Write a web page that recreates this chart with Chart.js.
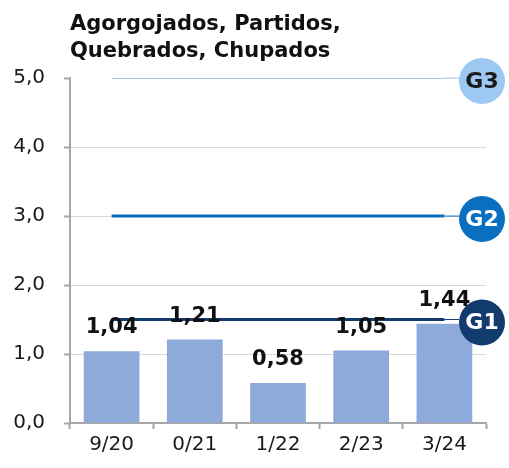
<!DOCTYPE html>
<html>
<head>
<meta charset="utf-8">
<script src="https://cdn.jsdelivr.net/npm/chart.js@4.4.1/dist/chart.umd.min.js"></script>
<style>
  html, body { margin: 0; padding: 0; background: #ffffff; }
  #wrap { width: 509px; height: 468px; }
</style>
</head>
<body>
<div id="wrap"><canvas id="c" width="509" height="468"></canvas></div>
<script>
const categories = ['9/20', '0/21', '1/22', '2/23', '3/24'];
const values = [1.04, 1.21, 0.58, 1.05, 1.44];
const thresholdNames = ['G3', 'G2', 'G1'];
const thresholdValues = [5.0, 3.0, 1.5];
const yTicks = [0, 1, 2, 3, 4, 5];
const titleLines = ['Agorgojados, Partidos,', 'Quebrados, Chupados'];

const lineColors = ['#9DC3E6', '#0B6FC0', '#123C6E'];
const lineWidths = [2, 3, 3];
const circleText = ['#1a1a1a', '#ffffff', '#ffffff'];
const fmt = v => v.toFixed(2).replace('.', ',');
const fmt1 = v => v.toFixed(1).replace('.', ',');

const FONT = "'DejaVu Sans', Verdana, sans-serif";

const thresholdDatasets = thresholdNames.map((n, i) => ({
  type: 'line',
  label: n,
  data: categories.map(() => thresholdValues[i]),
  borderColor: lineColors[i],
  borderWidth: lineWidths[i],
  pointRadius: 0,
  fill: false,
  order: 1
}));

const labelsPlugin = {
  id: 'valueLabels',
  afterDatasetsDraw(chart) {
    const ctx = chart.ctx;
    const meta = chart.getDatasetMeta(0);
    ctx.save();
    ctx.font = "bold 21px " + FONT;
    ctx.fillStyle = '#111111';
    ctx.textAlign = 'center';
    ctx.textBaseline = 'alphabetic';
    meta.data.forEach((bar, i) => {
      ctx.fillText(fmt(values[i]), bar.x, bar.y - 18);
    });
    ctx.restore();
  }
};

const badgePlugin = {
  id: 'badges',
  afterDraw(chart) {
    const ctx = chart.ctx;
    const ys = chart.scales.y;
    const area = chart.chartArea;
    const cx = area.right - 4;
    const r = 23;
    thresholdNames.forEach((n, i) => {
      const meta = chart.getDatasetMeta(i + 1);
      const last = meta.data[meta.data.length - 1];
      const ly = ys.getPixelForValue(thresholdValues[i]);
      const cy = ly + 3;
      ctx.save();
      ctx.strokeStyle = lineColors[i];
      ctx.lineWidth = 1;
      ctx.beginPath();
      ctx.moveTo(last.x, ly);
      ctx.lineTo(cx - r, ly);
      ctx.stroke();
      ctx.beginPath();
      ctx.arc(cx, cy, r, 0, Math.PI * 2);
      ctx.fillStyle = i === 0 ? '#9CC8F2' : lineColors[i];
      ctx.fill();
      ctx.font = "bold 22px " + FONT;
      ctx.fillStyle = circleText[i];
      ctx.textAlign = 'center';
      ctx.textBaseline = 'middle';
      ctx.fillText(n, cx, cy + 1);
      ctx.restore();
    });
  }
};

new Chart(document.getElementById('c'), {
  type: 'bar',
  data: {
    labels: categories,
    datasets: [{
      label: 'valor',
      data: values,
      backgroundColor: '#8EAADB',
      borderWidth: 0,
      categoryPercentage: 1.0,
      barPercentage: 0.67,
      order: 2
    }, ...thresholdDatasets]
  },
  options: {
    responsive: false,
    animation: false,
    events: [],
    layout: { padding: { left: 0, right: 23, top: 0, bottom: 0 } },
    plugins: {
      legend: { display: false },
      tooltip: { enabled: false },
      title: {
        display: true,
        text: titleLines,
        align: 'start',
        fullSize: false,
        color: '#111111',
        font: { family: FONT, size: 21, weight: 'bold', lineHeight: 1.24 },
        padding: { top: 12, bottom: 14 }
      }
    },
    scales: {
      x: {
        offset: true,
        grid: {
          display: true,
          offset: true,
          drawOnChartArea: false,
          drawTicks: true,
          tickLength: 6,
          tickColor: '#A6A6A6',
          tickWidth: 2
        },
        border: { display: true, color: '#A6A6A6', width: 2 },
        ticks: {
          color: '#1a1a1a',
          font: { family: FONT, size: 20 },
          padding: 4,
          maxRotation: 0
        },
        afterFit(s) { s.height = 45; }
      },
      y: {
        min: 0,
        max: 5,
        afterBuildTicks(s) { s.ticks = yTicks.map(v => ({ value: v })); },
        grid: {
          color: ctx => (ctx.tick && ctx.tick.value === 5) ? 'rgba(0,0,0,0)' : '#D9D9D9',
          lineWidth: 1,
          tickLength: 6,
          tickColor: '#A6A6A6',
          tickWidth: 2
        },
        border: { display: true, color: '#A6A6A6', width: 2 },
        ticks: {
          color: '#1a1a1a',
          font: { family: FONT, size: 20 },
          padding: 19,
          callback: v => fmt1(v)
        },
        afterFit(s) { s.width = 70; }
      }
    }
  },
  plugins: [labelsPlugin, badgePlugin]
});
</script>
</body>
</html>
